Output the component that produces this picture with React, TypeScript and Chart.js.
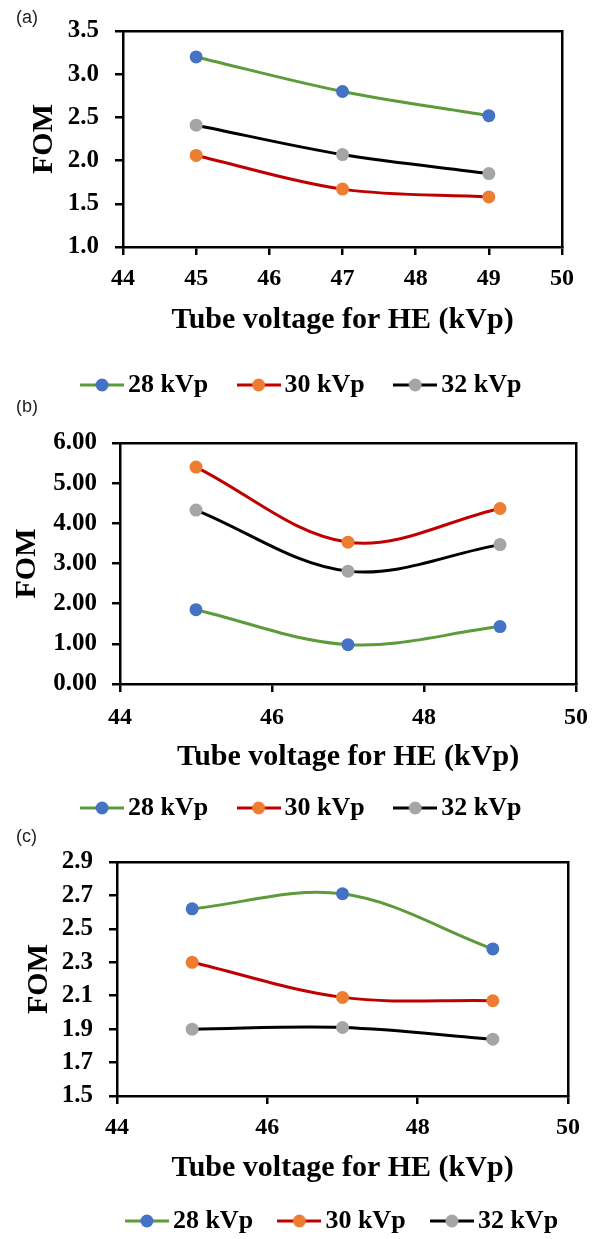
import React, { useEffect, useRef } from 'react';
import { Chart, registerables } from 'chart.js';

Chart.register(...registerables);

// ---------- data ----------
const voltages = [45, 47, 49];
const seriesNames = ['28 kVp', '30 kVp', '32 kVp'];
const lineColors = ['#5b9b3b', '#c00000', '#000000'];
const markerColors = ['#4472c4', '#ed7d31', '#a5a5a5'];

const fomA28 = [3.2, 2.8, 2.52];
const fomA30 = [2.06, 1.67, 1.58];
const fomA32 = [2.41, 2.07, 1.85];

const fomB28 = [1.85, 0.98, 1.43];
const fomB30 = [5.4, 3.53, 4.37];
const fomB32 = [4.33, 2.81, 3.47];

const fomC28 = [2.62, 2.71, 2.38];
const fomC30 = [2.3, 2.09, 2.07];
const fomC32 = [1.9, 1.91, 1.84];

const xRange = [44, 50];
const xStepA = 1;
const xStepBC = 2;
const yRangeA = [1.0, 3.5];
const yRangeB = [0, 6];
const yRangeC = [1.5, 2.9];
const yStepA = 0.5;
const yStepB = 1;
const yStepC = 0.2;
const yDecimalsA = 1;
const yDecimalsB = 2;
const yDecimalsC = 1;

const xTitle = 'Tube voltage for HE (kVp)';
const yTitle = 'FOM';
const panelLabels = ['(a)', '(b)', '(c)'];

// ---------- layout ----------
type Panel = {
  label: string;
  series: number[][];
  yRange: number[];
  yStep: number;
  yDecimals: number;
  xStep: number;
  top: number;
  height: number;
  padLeft: number;
  padRight: number;
  x2Height: number;
  y2Width: number;
  yScaleWidth: number;
  xScaleHeight: number;
  xTickPad: number;
  yTickPad: number;
  xTitlePadBottom: number;
  yTitlePadTop: number;
  legendPad: number;
  labelY: number;
};

const panels: Panel[] = [
  {
    label: panelLabels[0], series: [fomA28, fomA30, fomA32], yRange: yRangeA, yStep: yStepA,
    yDecimals: yDecimalsA, xStep: xStepA,
    top: 0, height: 408, padLeft: 10.4, padRight: 0, x2Height: 16, y2Width: 38, yScaleWidth: 112.6,
    xScaleHeight: 87.6, xTickPad: 9.6, yTickPad: 16, xTitlePadBottom: -3.4, yTitlePadTop: 16.1,
    legendPad: 37.4, labelY: 18,
  },
  {
    label: panelLabels[1], series: [fomB28, fomB30, fomB32], yRange: yRangeB, yStep: yStepB,
    yDecimals: yDecimalsB, xStep: xStepBC,
    top: 400, height: 431, padLeft: 10.4, padRight: 0, x2Height: 43, y2Width: 24, yScaleWidth: 109.6,
    xScaleHeight: 73.6, xTickPad: 11.6, yTickPad: 15, xTitlePadBottom: -17.4, yTitlePadTop: -1.4,
    legendPad: 37.4, labelY: 7,
  },
  {
    label: panelLabels[2], series: [fomC28, fomC30, fomC32], yRange: yRangeC, yStep: yStepC,
    yDecimals: yDecimalsC, xStep: xStepBC,
    top: 820, height: 424, padLeft: 0, padRight: -92, x2Height: 42, y2Width: 124, yScaleWidth: 117,
    xScaleHeight: 78.7, xTickPad: 9.6, yTickPad: 16, xTitlePadBottom: -11.3, yTitlePadTop: 21.5,
    legendPad: 33.3, labelY: 17,
  },
];

const SERIF = '"Liberation Serif", "Times New Roman", serif';

function makeIcon(line: string, marker: string): HTMLCanvasElement {
  const c = document.createElement('canvas');
  c.width = 44;
  c.height = 14;
  const g = c.getContext('2d')!;
  g.strokeStyle = line;
  g.lineWidth = 3;
  g.beginPath();
  g.moveTo(0, 7);
  g.lineTo(44, 7);
  g.stroke();
  g.fillStyle = marker;
  g.beginPath();
  g.arc(22, 7, 6.5, 0, Math.PI * 2);
  g.fill();
  return c;
}

const panelLabelPlugin = {
  id: 'panelLabel',
  afterDraw(chart: any, _args: any, opts: any) {
    const ctx = chart.ctx;
    ctx.save();
    ctx.font = '18px "Liberation Sans", Arial, sans-serif';
    ctx.fillStyle = '#222';
    ctx.textAlign = 'left';
    ctx.textBaseline = 'middle';
    ctx.fillText(opts.text, opts.x, opts.y);
    ctx.restore();
  },
};

function buildConfig(p: Panel, icons: HTMLCanvasElement[]): any {
  const axisBorder = { display: true, color: '#000', width: 2.5 };
  const tickGrid = { drawOnChartArea: false, drawTicks: true, tickLength: 8, color: '#000', lineWidth: 2.5 };
  const hiddenGrid = { display: false, drawTicks: false };
  return {
    type: 'line',
    data: {
      datasets: p.series.map((vals, i) => ({
        label: seriesNames[i],
        data: voltages.map((x, j) => ({ x, y: vals[j] })),
        borderColor: lineColors[i],
        backgroundColor: markerColors[i],
        pointBackgroundColor: markerColors[i],
        pointBorderColor: markerColors[i],
        pointBorderWidth: 0,
        pointRadius: 6.5,
        borderWidth: 3,
        tension: 0.35,
        fill: false,
      })),
    },
    options: {
      responsive: false,
      animation: false,
      layout: { padding: { left: p.padLeft, right: p.padRight, top: 0, bottom: 0 } },
      scales: {
        x: {
          type: 'linear',
          position: 'bottom',
          min: xRange[0],
          max: xRange[1],
          ticks: {
            stepSize: p.xStep,
            autoSkip: false,
            maxRotation: 0,
            padding: p.xTickPad,
            color: '#000',
            font: { family: SERIF, size: 24, weight: 'bold' },
          },
          grid: tickGrid,
          border: axisBorder,
          title: {
            display: true,
            text: xTitle,
            color: '#000',
            font: { family: SERIF, size: 30, weight: 'bold' },
            padding: { top: 0, bottom: p.xTitlePadBottom },
          },
          afterFit: (s: any) => { s.height = p.xScaleHeight; },
        },
        y: {
          type: 'linear',
          position: 'left',
          min: p.yRange[0],
          max: p.yRange[1],
          ticks: {
            stepSize: p.yStep,
            autoSkip: false,
            padding: p.yTickPad,
            color: '#000',
            font: { family: SERIF, size: 25, weight: 'bold' },
            callback: (v: any) => Number(v).toFixed(p.yDecimals),
          },
          grid: tickGrid,
          border: axisBorder,
          title: {
            display: true,
            text: yTitle,
            color: '#000',
            font: { family: SERIF, size: 30, weight: 'bold' },
            padding: { top: p.yTitlePadTop, bottom: 0 },
          },
          afterFit: (s: any) => { s.width = p.yScaleWidth; },
        },
        x2: {
          type: 'linear',
          position: 'top',
          min: xRange[0],
          max: xRange[1],
          ticks: { display: false },
          grid: hiddenGrid,
          border: axisBorder,
          afterFit: (s: any) => { s.height = p.x2Height; },
        },
        y2: {
          type: 'linear',
          position: 'right',
          min: p.yRange[0],
          max: p.yRange[1],
          ticks: { display: false },
          grid: hiddenGrid,
          border: axisBorder,
          afterFit: (s: any) => { s.width = p.y2Width; },
        },
      },
      plugins: {
        tooltip: { enabled: false },
        legend: {
          display: true,
          position: 'bottom',
          align: 'center',
          fullSize: true,
          labels: {
            usePointStyle: true,
            pointStyleWidth: 26,
            padding: p.legendPad,
            color: '#000',
            font: { family: SERIF, size: 26, weight: 'bold' },
            generateLabels: (chart: any) => {
              const items = (Chart as any).defaults.plugins.legend.labels.generateLabels(chart);
              items.forEach((it: any, i: number) => { it.pointStyle = icons[i]; });
              return items;
            },
          },
        },
        panelLabel: { text: p.label, x: 16, y: p.labelY },
      },
    },
    plugins: [panelLabelPlugin],
  };
}

function PanelChart({ panel }: { panel: Panel }) {
  const ref = useRef<HTMLCanvasElement | null>(null);
  useEffect(() => {
    if (!ref.current) return;
    const icons = lineColors.map((c, i) => makeIcon(c, markerColors[i]));
    const chart = new Chart(ref.current, buildConfig(panel, icons));
    return () => chart.destroy();
  }, [panel]);
  return (
    <canvas
      ref={ref}
      width={600}
      height={panel.height}
      style={{ position: 'absolute', left: 0, top: panel.top, width: 600, height: panel.height, display: 'block' }}
    />
  );
}

export default function App() {
  useEffect(() => {
    document.body.style.margin = '0';
    document.body.style.background = '#fff';
  }, []);
  return (
    <div style={{ position: 'relative', width: 600, height: 1239, overflow: 'hidden', background: '#fff' }}>
      {panels.map((p) => (
        <PanelChart key={p.label} panel={p} />
      ))}
    </div>
  );
}
